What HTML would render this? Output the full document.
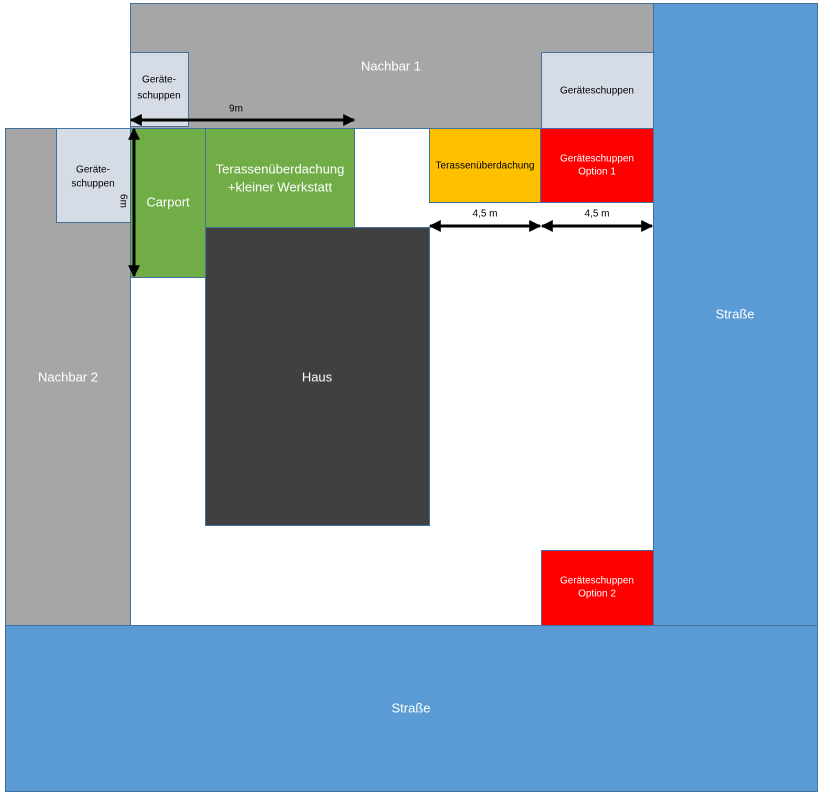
<!DOCTYPE html>
<html><head><meta charset="utf-8"><style>
html,body{margin:0;padding:0;background:#fff;width:819px;height:792px;overflow:hidden}
svg text{font-family:"Liberation Sans",sans-serif;text-anchor:middle;dominant-baseline:middle}
</style></head><body>
<svg width="819" height="792" viewBox="0 0 819 792" xmlns="http://www.w3.org/2000/svg">
<defs>
<marker id="a" viewBox="0 0 10 10" refX="9" refY="5" markerWidth="4" markerHeight="4" orient="auto-start-reverse"><path d="M0,0L10,5L0,10z" fill="#000"/></marker>
</defs>
<g stroke="#41719c" stroke-width="1">
<rect x="130.5" y="3.5" width="523" height="125" fill="#a6a6a6"/>
<rect x="653.5" y="3.5" width="164" height="622" fill="#5b9bd5"/>
<rect x="5.5" y="128.5" width="125" height="497" fill="#a6a6a6"/>
<rect x="5.5" y="625.5" width="812" height="166" fill="#5b9bd5"/>
<rect x="130.5" y="52.5" width="58" height="74" fill="#d6dce5"/>
<rect x="541.5" y="52.5" width="112" height="76" fill="#d6dce5"/>
<rect x="56.5" y="128.5" width="74" height="94" fill="#d6dce5"/>
<rect x="130.5" y="128.5" width="75" height="149" fill="#70ad47"/>
<rect x="205.5" y="128.5" width="149" height="99" fill="#70ad47"/>
<rect x="205.5" y="227.5" width="224" height="298" fill="#404040"/>
<rect x="429.5" y="128.5" width="111" height="74" fill="#ffc000"/>
<rect x="540.5" y="128.5" width="113" height="74" fill="#ff0000"/>
<rect x="541.5" y="550.5" width="112" height="75" fill="#ff0000"/>
</g>
<g stroke="#000" stroke-width="3" marker-start="url(#a)" marker-end="url(#a)">
<line x1="131" y1="120" x2="354" y2="120"/>
<line x1="134" y1="129" x2="134" y2="276"/>
<line x1="430" y1="226" x2="540" y2="226"/>
<line x1="542" y1="226" x2="652" y2="226"/>
</g>
<g fill="#fff" font-size="13">
<text x="391" y="67">Nachbar 1</text>
<text x="735" y="315">Straße</text>
<text x="68" y="378">Nachbar 2</text>
<text x="411" y="709">Straße</text>
<text x="317" y="378">Haus</text>
<text x="168" y="203">Carport</text>
<text x="280" y="170">Terassenüberdachung</text>
<text x="280" y="188">+kleiner Werkstatt</text>
<text x="597" y="159" font-size="10">Geräteschuppen</text>
<text x="597" y="172" font-size="10">Option 1</text>
<text x="597" y="581" font-size="10">Geräteschuppen</text>
<text x="597" y="594" font-size="10">Option 2</text>
</g>
<g fill="#000" font-size="10">
<text x="159" y="80">Geräte-</text>
<text x="159" y="96">schuppen</text>
<text x="93" y="170">Geräte-</text>
<text x="93" y="184">schuppen</text>
<text x="597" y="91">Geräteschuppen</text>
<text x="485" y="166">Terassenüberdachung</text>
<text x="236" y="109">9m</text>
<text x="485" y="214">4,5 m</text>
<text x="597" y="214">4,5 m</text>
<text x="0" y="0" transform="translate(123,201) rotate(90)">6m</text>
</g>
</svg>
</body></html>
